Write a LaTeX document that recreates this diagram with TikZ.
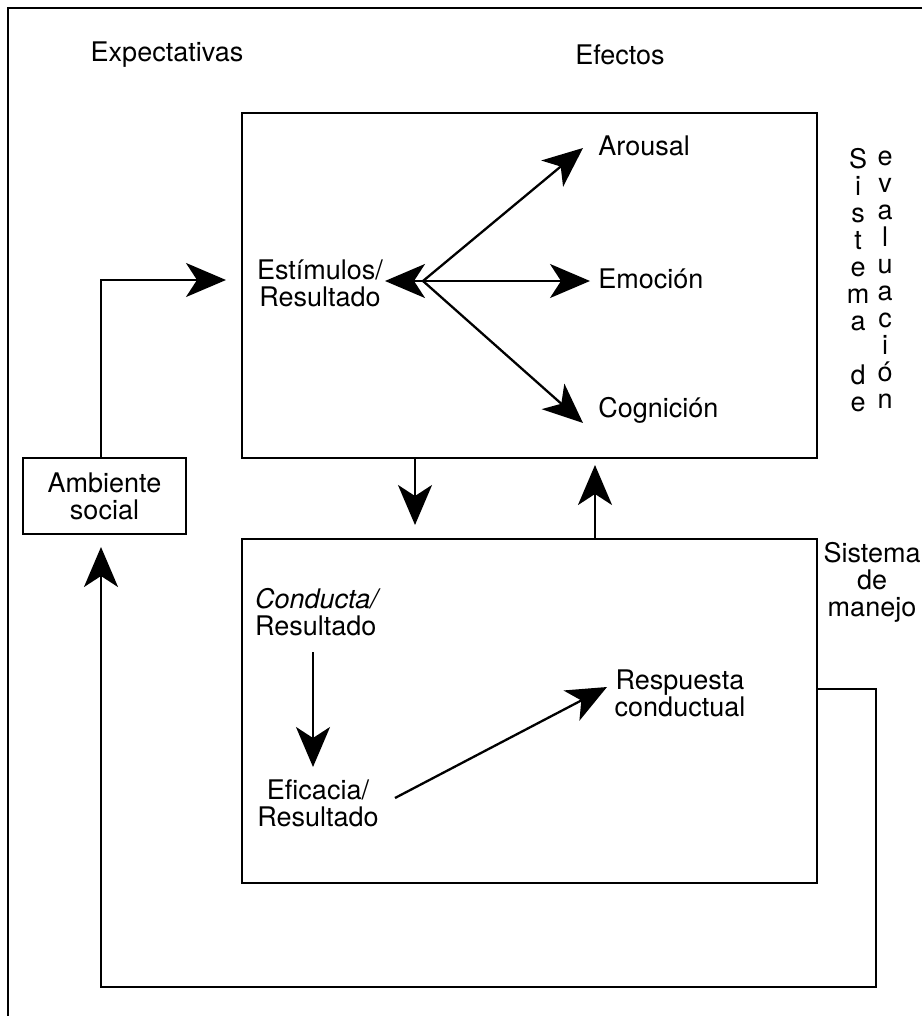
\documentclass[tikz,border=0pt]{standalone}
\usepackage{fontspec}
\setmainfont{TeX Gyre Heros}
\usetikzlibrary{arrows.meta}
\begin{document}
\begin{tikzpicture}[x=1pt,y=-1pt,line width=2.7pt,
  lbl/.style={font=\fontsize{27}{27}\selectfont,inner sep=0pt,align=center},
  boxn/.style={draw,inner sep=0pt},
  big/.style={-{Stealth[length=40pt,width=34pt,inset=11pt]}},
  bigboth/.style={{Stealth[length=40pt,width=34pt,inset=11pt]}-{Stealth[length=40pt,width=34pt,inset=11pt]}},
  conn/.style={line width=2.3pt}]
\useasboundingbox (0,0) rectangle (922,1016);
% outer frame (top and left)
\draw (922,8) -- (8,8) -- (8,1016);
% boxes
\node[boxn,minimum width=575pt,minimum height=345pt] (eval) at (529.5,285.5) {};
\node[boxn,minimum width=575pt,minimum height=344pt] (mgmt) at (529.5,711) {};
\node[boxn,lbl,minimum width=163pt,minimum height=76pt] (amb) at (104.5,496) {Ambiente\\social};
% labels
\node[lbl] (expect) at (167,55) {Expectativas};
\node[lbl] (efect) at (620,55) {Efectos};
\node[lbl] (estim) at (320,283) {Estímulos/\\Resultado};
\node[lbl,anchor=west] (arousal) at (597,146) {Arousal};
\node[lbl,anchor=west] (emo) at (597,279) {Emoción};
\node[lbl,anchor=west] (cog) at (597,410) {Cognición};
\node[lbl,align=left] (cond) at (318,612) {\textit{Conducta/}\\Resultado};
\node[lbl] (efic) at (318,803) {Eficacia/\\Resultado};
\node[lbl] (resp) at (680,693) {Respuesta\\conductual};
\node[lbl] (manejo) at (872,582) {Sistema\\de\\manejo};
\node[lbl] (sist) at (858,280) {S\\i\\s\\t\\e\\m\\a\\\mbox{}\\d\\e};
\node[lbl] (evalu) at (885,280) {e\\v\\a\\l\\u\\a\\c\\i\\ó\\n};
% coordinates for arrow ends
\coordinate (hubL) at (385,281);
\coordinate (hub) at (423,281);
\coordinate (arTip) at (583,148);
\coordinate (emoTip) at (590,281);
\coordinate (cogTip) at (583,423);
\coordinate (inTip) at (226,280);
\coordinate (ambTip) at (101,547);
\coordinate (loopA) at (876,689);
\coordinate (loopB) at (876,987);
\coordinate (loopC) at (101,987);
\coordinate (dnTip) at (415,525);
\coordinate (upTip) at (595,465);
\coordinate (cStart) at (313,652);
\coordinate (cTip) at (313,767);
\coordinate (eStart) at (395,798);
\coordinate (rTip) at (607,687);
% arrows in evaluation box
\draw[conn,bigboth] (hubL) -- (emoTip);
\draw[conn,big] (hub) -- (arTip);
\draw[conn,big] (hub) -- (cogTip);
% between boxes
\draw[conn,big] (eval.south -| dnTip) -- (dnTip);
\draw[conn,big] (mgmt.north -| upTip) -- (upTip);
% management box
\draw[conn,big] (cStart) -- (cTip);
\draw[conn,big] (eStart) -- (rTip);
% social environment loop
\draw[conn,big] (amb.north -| ambTip) |- (inTip);
\draw[conn,big] (mgmt.east |- loopA) -- (loopA) -- (loopB) -- (loopC) -- (ambTip);
\end{tikzpicture}
\end{document}
